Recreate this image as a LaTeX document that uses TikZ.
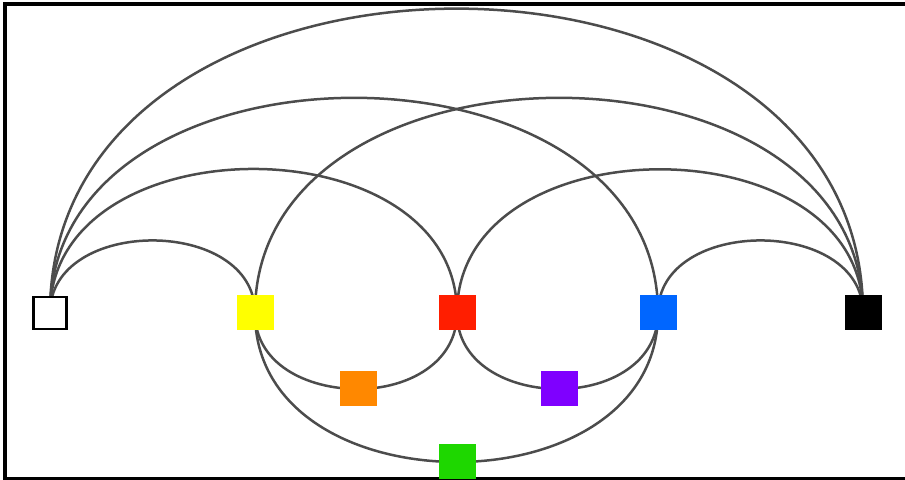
\documentclass[tikz,border=0pt]{standalone}
\usepackage{xcolor}
\usepackage{tikz}
\usetikzlibrary{backgrounds}

\definecolor{cyel}{RGB}{255,255,0}
\definecolor{cred}{RGB}{255,30,0}
\definecolor{cblu}{RGB}{0,102,255}
\definecolor{corg}{RGB}{255,136,0}
\definecolor{cpur}{RGB}{127,0,255}
\definecolor{cgrn}{RGB}{30,215,0}

\begin{document}
\begin{tikzpicture}[x=0.5pt, y=0.5pt,
  sq/.style={rectangle, inner sep=0pt, minimum width=18.5pt, minimum height=17.5pt},
  link/.style={draw=black!70, line width=1.25pt},
  up/.style={out=90, in=90, looseness=1.21},
  downin/.style={out=-90, in=180, looseness=1.02},
  upout/.style={out=0, in=-90, looseness=1.02}]
\useasboundingbox (0,0) rectangle (905,480);
\clip (0,0) rectangle (905,480);
\draw[line width=1.8pt] (4.7,1.5) rectangle (910,476);
% top row
\node[sq, draw=black, line width=1.3pt, fill=white, minimum width=16.5pt, minimum height=16pt] (wh) at (50,167) {};
\node[sq, fill=cyel] (ye) at (255,167) {};
\node[sq, fill=cred] (re) at (457,167) {};
\node[sq, fill=cblu] (bl) at (658,167) {};
\node[sq, fill=black] (bk) at (863,167) {};
% lower row
\node[sq, fill=corg] (or) at (358,91) {};
\node[sq, fill=cpur] (pu) at (559,91) {};
\node[sq, fill=cgrn] (gr) at (457,18) {};
\begin{scope}[on background layer]
\draw[link] (wh.center) to[up] (ye.center);
\draw[link] (wh.center) to[up] (re.center);
\draw[link] (wh.center) to[up] (bl.center);
\draw[link] (wh.center) to[up, looseness=1.28] (bk.center);
\draw[link] (ye.center) to[up] (bk.center);
\draw[link] (re.center) to[up] (bk.center);
\draw[link] (bl.center) to[up] (bk.center);
\draw[link] (ye.center) to[downin] (or.center);
\draw[link] (or.center) to[upout] (re.center);
\draw[link] (re.center) to[downin] (pu.center);
\draw[link] (pu.center) to[upout] (bl.center);
\draw[link] (ye.center) to[downin] (gr.center);
\draw[link] (gr.center) to[upout] (bl.center);
\end{scope}
\end{tikzpicture}
\end{document}
